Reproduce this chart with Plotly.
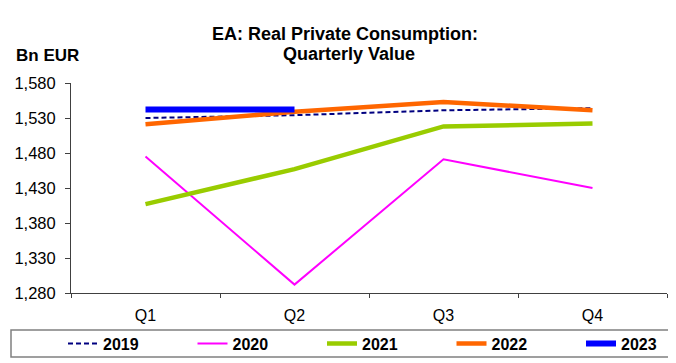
import plotly.graph_objects as go

quarters = ["Q1", "Q2", "Q3", "Q4"]
years = ["2019", "2020", "2021", "2022", "2023"]
v2019 = [1530, 1534, 1541, 1544]
v2020 = [1475, 1292, 1471, 1430]
v2021 = [1407, 1457, 1518, 1522]
v2022 = [1521, 1539, 1553, 1541]
v2023 = [1542, 1542, None, None]
y_ticks = [1280, 1330, 1380, 1430, 1480, 1530, 1580]

series = [v2019, v2020, v2021, v2022, v2023]
styles = [
    dict(color="#000080", width=2, dash="5px,3px"),
    dict(color="#FF00FF", width=2),
    dict(color="#99CC00", width=4.5),
    dict(color="#FF6600", width=4.5),
    dict(color="#0000FF", width=6),
]

FONT = "Liberation Sans, Arial, sans-serif"

fig = go.Figure()
for name, vals, st in zip(years, series, styles):
    fig.add_trace(go.Scatter(x=quarters, y=vals, name=name, mode="lines",
                             line=st, connectgaps=False))

# page body has an 8px margin; lay the figure out in window pixels minus that offset
OFF = 8
W, H = 676 - OFF, 363 - OFF
L = 71 - OFF
R = 676 - 667
T = 83 - OFF
B = 70
pw = W - L - R
ph = H - T - B

def px_x(px):
    return (px - OFF - L) / pw

def px_y(py):
    return (H - B - (py - OFF)) / ph

fig.update_layout(
    width=W, height=H,
    margin=dict(l=L, r=R, t=T, b=B, autoexpand=False),
    paper_bgcolor="white", plot_bgcolor="white",
    font=dict(family=FONT, color="#000000", size=16),
    title=dict(text="<b>EA: Real Private Consumption:</b>",
               x=(345 - OFF) / W, xanchor="center", xref="container",
               y=1 - (34 - OFF) / H, yanchor="middle",
               font=dict(family=FONT, size=18, color="#000000")),
    showlegend=True,
    legend=dict(orientation="h", x=px_x(63), xanchor="left",
                y=px_y(343.5), yanchor="middle",
                entrywidth=84.5, entrywidthmode="pixels",
                font=dict(family=FONT, size=16, color="#000000", weight="bold"),
                bgcolor="rgba(0,0,0,0)", borderwidth=0, tracegroupgap=0,
                itemwidth=30),
    xaxis=dict(type="category", range=[-0.5, 3.5], showgrid=False, zeroline=False,
               showline=True, linecolor="#404040", linewidth=1,
               ticks="outside", ticklen=4, tickcolor="#404040", tickson="boundaries",
               tickfont=dict(family=FONT, size=16, color="#000000"),
               ticklabelstandoff=8),
    yaxis=dict(range=[1280, 1580], tickvals=y_ticks,
               ticktext=[f"{v:,}" for v in y_ticks],
               showgrid=False, zeroline=False,
               showline=True, linecolor="#404040", linewidth=1,
               ticks="outside", ticklen=5, tickcolor="#404040",
               tickfont=dict(family=FONT, size=16.5, color="#000000"),
               ticklabelstandoff=6),
    annotations=[
        dict(text="<b>Quarterly Value</b>", xref="paper", yref="paper",
             x=px_x(349), y=px_y(54), xanchor="center", yanchor="middle",
             showarrow=False, font=dict(family=FONT, size=18, color="#000000")),
        dict(text="<b>Bn EUR</b>", xref="paper", yref="paper",
             x=px_x(14), y=px_y(55), xanchor="left", yanchor="middle",
             showarrow=False, font=dict(family=FONT, size=17, color="#000000")),
    ],
    shapes=[
        dict(type="rect", xref="paper", yref="paper",
             x0=px_x(11), x1=px_x(690), y0=px_y(330), y1=px_y(357),
             line=dict(color="#808080", width=1.5), fillcolor="rgba(0,0,0,0)", layer="below"),
    ],
)

fig.write_html("out.html")
